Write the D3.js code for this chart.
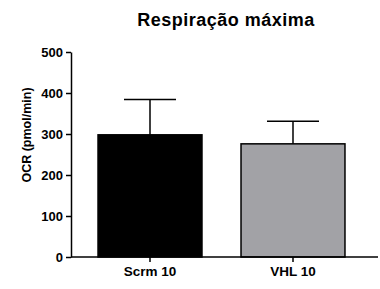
<!DOCTYPE html>
<html>
<head>
<meta charset="utf-8">
<script src="https://cdn.jsdelivr.net/npm/d3@7"></script>
<style>
  body { margin: 0; background: #fff; }
  svg text { font-family: "Liberation Sans", Arial, sans-serif; font-weight: bold; fill: #000; }
</style>
</head>
<body>
<script>
// data
var groups = ["Scrm 10", "VHL 10"];
var means = [298, 276];
var errors = [86, 55];
var barColors = ["#000000", "#a2a2a6"];
var yTicks = [0, 100, 200, 300, 400, 500];

var W = 380, H = 289;
var svg = d3.select("body").append("svg")
    .attr("width", W)
    .attr("height", H);

var x = d3.scaleBand()
    .domain(groups)
    .range([71, 372])
    .paddingInner(0.273)
    .paddingOuter(0.189);

var y = d3.scaleLinear()
    .domain([0, 500])
    .range([257, 52]);

// title
svg.append("text")
    .attr("x", 226)
    .attr("y", 26)
    .attr("text-anchor", "middle")
    .style("font-size", "18px")
    .style("letter-spacing", "0.5px")
    .text("Respiração máxima");

// y label
svg.append("text")
    .attr("transform", "translate(31," + 135 + ") rotate(-90)")
    .attr("text-anchor", "middle")
    .style("font-size", "12.5px")
    .text("OCR (pmol/min)");

// bars
svg.selectAll(".bar")
    .data(groups)
    .enter()
    .append("rect")
    .attr("class", "bar")
    .attr("x", function (d) { return x(d); })
    .attr("y", function (d, i) { return y(means[i]); })
    .attr("width", x.bandwidth())
    .attr("height", function (d, i) { return y(0) - y(means[i]); })
    .attr("fill", function (d, i) { return barColors[i]; })
    .attr("stroke", "#000")
    .attr("stroke-width", 1.5);

// error bars (upper only)
var eb = svg.selectAll(".err")
    .data(groups)
    .enter()
    .append("g")
    .attr("class", "err")
    .attr("stroke", "#000")
    .attr("stroke-width", 1.5);
eb.append("line")
    .attr("x1", function (d) { return x(d) + x.bandwidth() / 2; })
    .attr("x2", function (d) { return x(d) + x.bandwidth() / 2; })
    .attr("y1", function (d, i) { return y(means[i]); })
    .attr("y2", function (d, i) { return y(means[i] + errors[i]); });
eb.append("line")
    .attr("x1", function (d) { return x(d) + x.bandwidth() / 2 - 26; })
    .attr("x2", function (d) { return x(d) + x.bandwidth() / 2 + 26; })
    .attr("y1", function (d, i) { return y(means[i] + errors[i]); })
    .attr("y2", function (d, i) { return y(means[i] + errors[i]); });

// axes
var yAxis = d3.axisLeft(y).tickValues(yTicks).tickSize(5).tickPadding(3).tickSizeOuter(0);
var gy = svg.append("g")
    .attr("transform", "translate(71,0)")
    .call(yAxis);

var xAxis = d3.axisBottom(x).tickSize(5).tickPadding(4).tickSizeOuter(0);
var gx = svg.append("g")
    .attr("transform", "translate(0,257)")
    .call(xAxis);
gx.select(".domain").attr("d", "M71,0H378");

svg.selectAll(".domain, .tick line")
    .attr("stroke", "#000")
    .attr("stroke-width", 1.5);
gy.selectAll(".tick text").style("font-size", "13px").attr("font-family", null);
gx.selectAll(".tick text").style("font-size", "13.5px").attr("font-family", null);
</script>
</body>
</html>
